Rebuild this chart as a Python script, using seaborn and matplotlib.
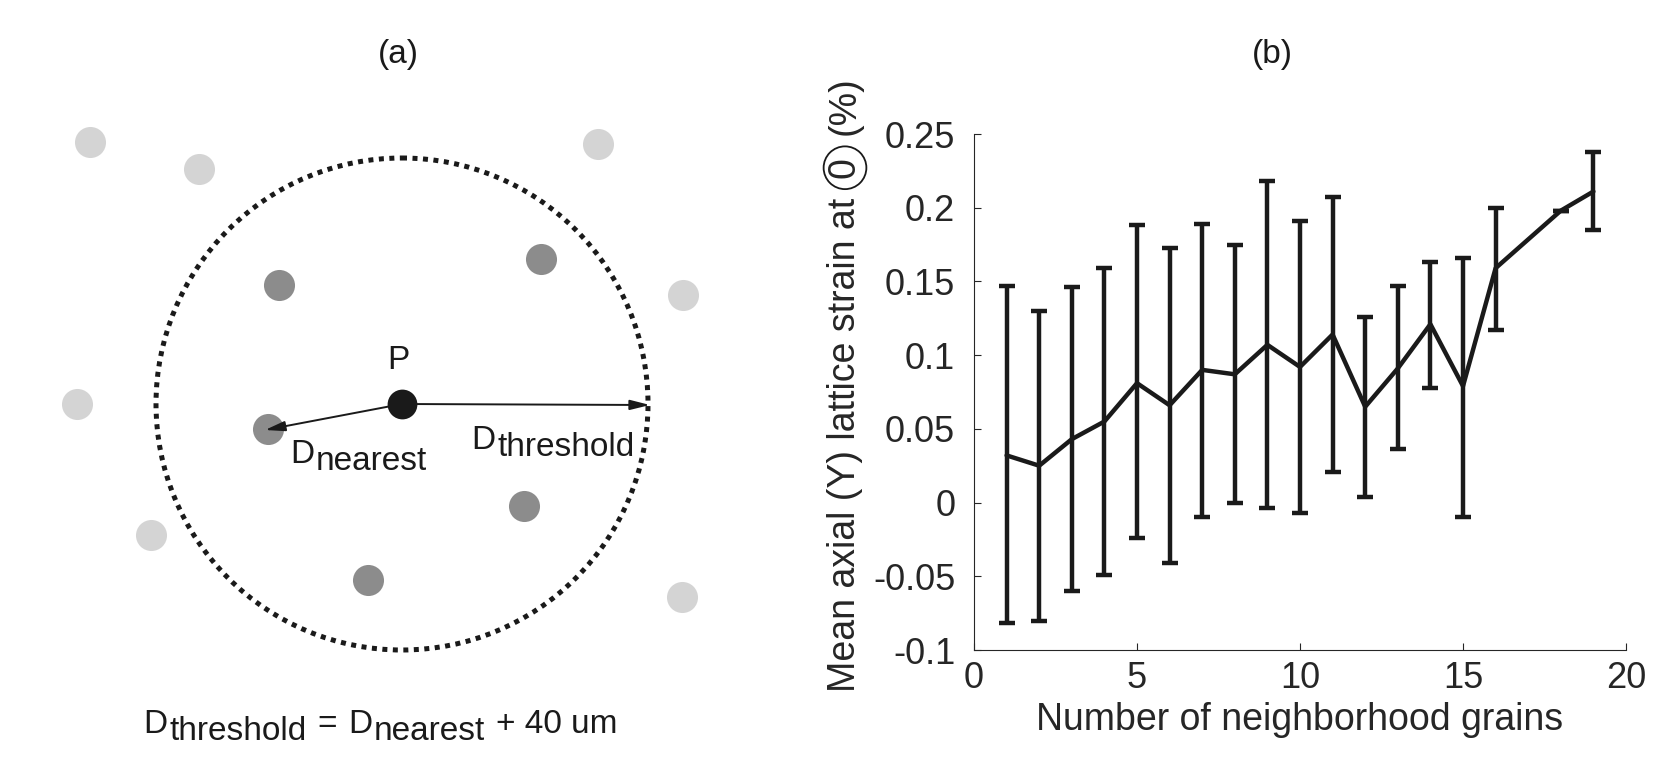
import numpy as np
import matplotlib
matplotlib.use('Agg')
import matplotlib.pyplot as plt
import seaborn as sns
from matplotlib.patches import Circle
from matplotlib.ticker import FuncFormatter

# ---- panel (b): mean axial lattice strain vs number of neighbour grains ----
n_grains = [1, 2, 3, 4, 5, 6, 7, 8, 9, 10, 11, 12, 13, 14, 15, 16, 18, 19]
strain_mean = [0.032, 0.025, 0.043, 0.055, 0.081, 0.066, 0.090, 0.087, 0.107,
               0.092, 0.114, 0.065, 0.091, 0.121, 0.079, 0.159, 0.198, 0.211]
strain_upper = [0.147, 0.130, 0.146, 0.159, 0.188, 0.173, 0.189, 0.175, 0.218,
                0.191, 0.207, 0.126, 0.147, 0.163, 0.166, 0.200, 0.198, 0.238]
strain_lower = [-0.082, -0.080, -0.060, -0.049, -0.024, -0.041, -0.010, 0.000, -0.004,
                -0.007, 0.021, 0.004, 0.036, 0.078, -0.010, 0.117, 0.198, 0.185]

# ---- panel (a): sketch of the neighbourhood (pixel units) ----
p_xy = (402, 404)
radius_thr = 246
inner_x = [279, 541, 268, 524, 368]
inner_y = [285, 259, 429, 506, 580]
outer_x = [90, 199, 598, 683, 77, 151, 682]
outer_y = [142, 169, 144, 295, 404, 535, 597]
nearest_tip = (265, 430)
thr_tip = (650, 405)

sns.set_theme(style='white')
plt.rcParams['font.family'] = ['Liberation Sans', 'DejaVu Sans']
plt.rcParams['axes.unicode_minus'] = False

W, H = 1654, 768
fig = plt.figure(figsize=(W / 100, H / 100), dpi=100)
rend = fig.canvas.get_renderer()
grey = '#262626'

# ---------------- panel (a) ----------------
ax_a = fig.add_axes([0, 0, 760 / W, 1])
ax_a.set_xlim(0, 760)
ax_a.set_ylim(768, 0)
ax_a.axis('off')

sns.scatterplot(x=outer_x, y=outer_y, color='#d4d4d4', s=500, linewidth=0, ax=ax_a, zorder=2)
sns.scatterplot(x=inner_x, y=inner_y, color='#8c8c8c', s=500, linewidth=0, ax=ax_a, zorder=2)
ax_a.add_patch(Circle(p_xy, radius_thr, fill=False, ec='k', lw=3.6, ls=(0, (1, 1.1)), zorder=3))

arrow = dict(arrowstyle='-|>,head_length=1.2,head_width=0.3', lw=1.4, color='k',
             shrinkA=0, shrinkB=0, mutation_scale=10)
ax_a.annotate('', xy=nearest_tip, xytext=p_xy, arrowprops=arrow, zorder=4)
ax_a.annotate('', xy=thr_tip, xytext=p_xy, arrowprops=arrow, zorder=4)
ax_a.scatter([p_xy[0]], [p_xy[1]], color='k', s=460, linewidths=0, zorder=5)


def rich_text(ax, x, y, pieces, size=24):
    # pieces: (text, shift down in px, gap after in px)
    for s, dy, gap in pieces:
        t = ax.text(x, y + dy, s, fontsize=size, ha='left', va='baseline', color='k')
        x += t.get_window_extent(rend).width + gap


ax_a.text(398, 369, 'P', fontsize=24, ha='center', va='baseline', color='k')
rich_text(ax_a, 290, 463, [('D', 0, 2), ('nearest', 7, 0)])
rich_text(ax_a, 471, 449, [('D', 0, 2), ('threshold', 7, 0)])
rich_text(ax_a, 143, 733, [('D', 0, 2), ('threshold', 7, 11), ('=', 0, 11),
                           ('D', 0, 2), ('nearest', 7, 11), ('+ 40 um', 0, 0)])

fig.text(398 / W, 1 - 63 / H, '(a)', fontsize=24, ha='center', va='baseline', color='k')
fig.text(1272 / W, 1 - 63 / H, '(b)', fontsize=24, ha='center', va='baseline', color='k')

# ---------------- panel (b) ----------------
ax_b = fig.add_axes([974 / W, 118 / H, 652 / W, 516 / H])
mean = np.array(strain_mean)
yerr = [mean - np.array(strain_lower), np.array(strain_upper) - mean]
ax_b.errorbar(n_grains, strain_mean, yerr=yerr, fmt='none', ecolor='k',
              elinewidth=3.2, capsize=5.5, capthick=3.2, zorder=3)
sns.lineplot(x=n_grains, y=strain_mean, color='k', linewidth=3.2, ax=ax_b, zorder=4)

ax_b.set_xlim(0, 20)
ax_b.set_ylim(-0.1, 0.25)
ax_b.set_xticks([0, 5, 10, 15, 20])
ax_b.set_yticks(np.arange(-0.1, 0.2501, 0.05))
ax_b.yaxis.set_major_formatter(FuncFormatter(lambda v, p: f'{round(v, 2):g}'))
for side in ['top', 'right']:
    ax_b.spines[side].set_visible(False)
for side in ['left', 'bottom']:
    ax_b.spines[side].set_color(grey)
    ax_b.spines[side].set_linewidth(0.8)
ax_b.tick_params(direction='in', length=5, width=0.8, color=grey, labelcolor=grey,
                 labelsize=26, left=True, bottom=True)
ax_b.tick_params(axis='y', pad=13.5)
ax_b.tick_params(axis='x', pad=8)
ax_b.set_xlabel('Number of neighborhood grains', fontsize=27, color=grey, labelpad=4)
ax_b.set_ylabel('')

# y label with the circled "0", built from three rotated pieces
lx = 845 / W
t1 = fig.text(lx, 76 / H, 'Mean axial (Y) lattice strain at', rotation=90,
              ha='center', va='bottom', fontsize=27, color=grey)
top1 = t1.get_window_extent(rend).y1
yc = top1 + 30
fig.text(lx, yc / H, '0', rotation=90, ha='center', va='center', fontsize=27, color=grey,
         bbox=dict(boxstyle='circle,pad=0.09', fc='none', ec='k', lw=1.3))
fig.text(lx, (yc + 33) / H, '(%)', rotation=90, ha='center', va='bottom',
         fontsize=27, color=grey)

fig.savefig('out.png', dpi=100)
